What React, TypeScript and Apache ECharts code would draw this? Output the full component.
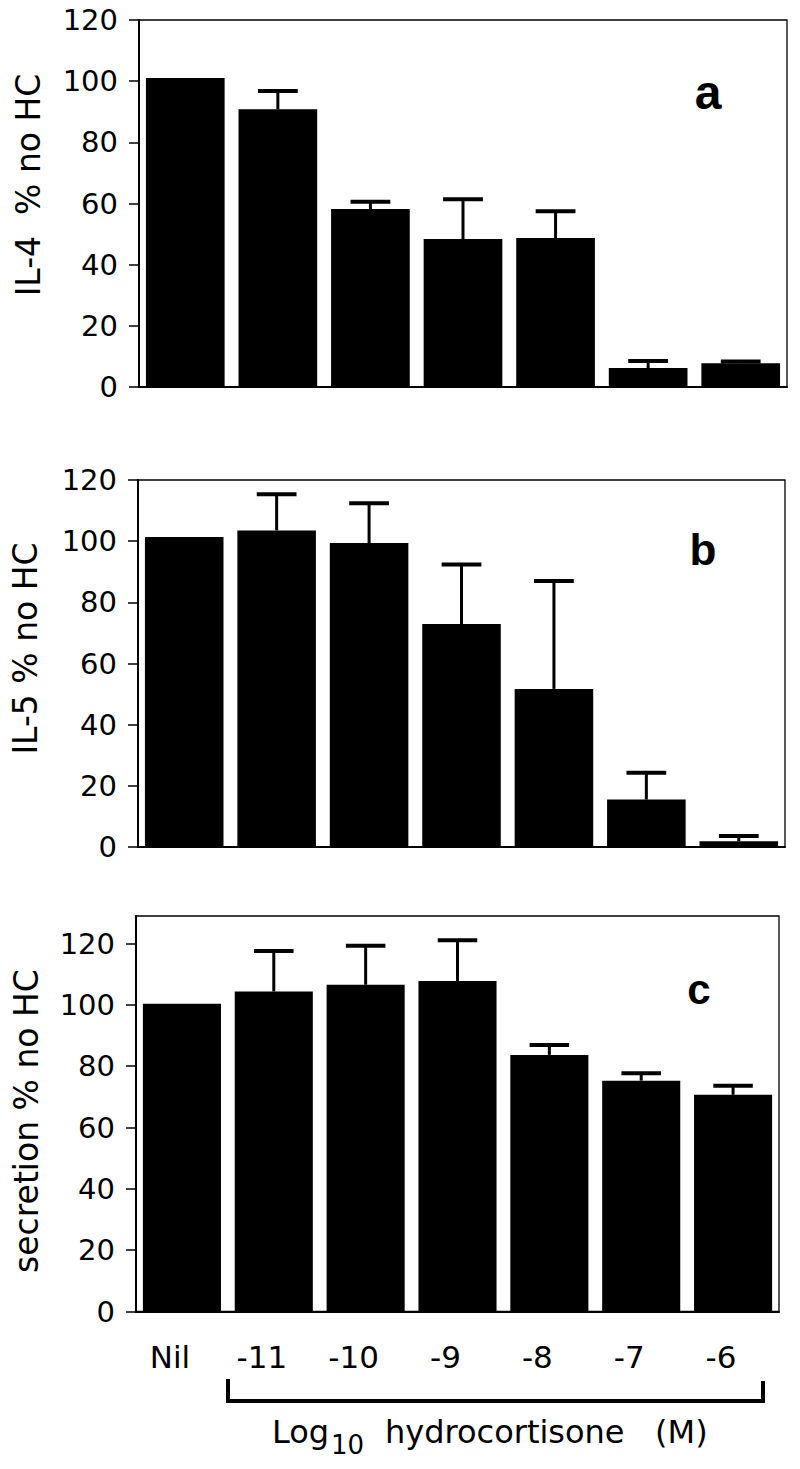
import React, { useEffect, useRef } from "react";
import * as echarts from "echarts";

const categories = ["Nil", "-11", "-10", "-9", "-8", "-7", "-6"];
const il4Mean = [101, 90.8, 58.2, 48.4, 48.7, 6.2, 7.8];
const il4Err = [0, 6.0, 2.4, 13.0, 8.8, 2.3, 0.5];
const il5Mean = [101.4, 103.5, 99.4, 72.9, 51.7, 15.5, 1.9];
const il5Err = [0, 11.8, 13.0, 19.5, 35.3, 8.8, 1.7];
const secMean = [100.4, 104.4, 106.6, 107.8, 83.7, 75.3, 70.7];
const secErr = [0, 13.2, 12.7, 13.3, 3.2, 2.4, 2.9];
const yTicks = [0, 20, 40, 60, 80, 100, 120];

const FONT = "DejaVu Sans";

function errorSeries(idx: number, means: number[], errs: number[]) {
  return {
    type: "custom",
    xAxisIndex: idx,
    yAxisIndex: idx,
    z: 3,
    data: means.map((m, i) => [i, m, errs[i]]),
    renderItem: (params: any, api: any) => {
      const i = api.value(0);
      const m = api.value(1);
      const e = api.value(2);
      if (!e) return null;
      const base = api.coord([i, m]);
      const top = api.coord([i, m + e]);
      const half = api.size([1, 0])[0] * 0.215;
      return {
        type: "group",
        children: [
          {
            type: "line",
            shape: { x1: base[0], y1: base[1], x2: top[0], y2: top[1] },
            style: { stroke: "#000", lineWidth: 3 },
          },
          {
            type: "line",
            shape: { x1: top[0] - half, y1: top[1], x2: top[0] + half, y2: top[1] },
            style: { stroke: "#000", lineWidth: 4 },
          },
        ],
      };
    },
  };
}

function barSeries(idx: number, means: number[]) {
  return {
    type: "bar",
    xAxisIndex: idx,
    yAxisIndex: idx,
    data: means,
    barWidth: "85%",
    itemStyle: { color: "#000" },
    z: 2,
  };
}

function yAxis(idx: number, max: number) {
  return {
    type: "value",
    gridIndex: idx,
    min: 0,
    max,
    interval: 20,
    axisLine: { show: true, lineStyle: { color: "#000", width: 2 } },
    axisTick: {
      show: true,
      inside: false,
      length: 10,
      lineStyle: { color: "#000", width: 1.5 },
      customValues: yTicks,
    },
    axisLabel: {
      color: "#000",
      fontSize: 29,
      fontFamily: FONT,
      margin: 21,
      customValues: yTicks,
    },
    splitLine: { show: false },
  };
}

function xAxis(idx: number, showLabels: boolean) {
  return {
    type: "category",
    gridIndex: idx,
    data: categories,
    axisLine: { show: true, lineStyle: { color: "#000", width: 2 } },
    axisTick: { show: false },
    axisLabel: {
      show: showLabels,
      interval: 0,
      color: "#000",
      fontSize: 31,
      fontFamily: FONT,
      margin: 30,
      padding: [0, 24, 0, 0],
    },
    splitLine: { show: false },
  };
}

function grid(left: number, top: number, width: number, height: number) {
  return {
    left,
    top,
    width,
    height,
    show: true,
    borderColor: "#000",
    borderWidth: 1.3,
    backgroundColor: "transparent",
  };
}

function vText(text: string, x: number, y: number) {
  return {
    type: "text",
    x,
    y,
    rotation: Math.PI / 2,
    style: {
      text,
      fontSize: 33,
      fontFamily: FONT,
      fill: "#000",
      textAlign: "center",
      textVerticalAlign: "middle",
    },
  };
}

function letter(text: string, x: number, y: number, size: number) {
  return {
    type: "text",
    x,
    y,
    style: {
      text,
      fontSize: size,
      fontWeight: "bold",
      fontFamily: "Liberation Sans",
      fill: "#000",
      textAlign: "center",
      textVerticalAlign: "middle",
    },
  };
}

function hText(text: string, x: number, y: number, size: number) {
  return {
    type: "text",
    x,
    y,
    style: {
      text,
      fontSize: size,
      fontFamily: FONT,
      fill: "#000",
      textAlign: "left",
      textVerticalAlign: "middle",
    },
  };
}

export default function App() {
  const ref = useRef<HTMLDivElement>(null);
  useEffect(() => {
    document.body.style.margin = "0";
    if (!ref.current) return;
    const chart = echarts.init(ref.current, null, { renderer: "svg" });
    chart.setOption({
      animation: false,
      backgroundColor: "#fff",
      grid: [grid(139, 20, 648, 367), grid(138, 480, 647, 367), grid(136, 916, 643, 395.5)],
      xAxis: [xAxis(0, false), xAxis(1, false), xAxis(2, true)],
      yAxis: [yAxis(0, 120), yAxis(1, 120), yAxis(2, 129)],
      series: [
        barSeries(0, il4Mean),
        errorSeries(0, il4Mean, il4Err),
        barSeries(1, il5Mean),
        errorSeries(1, il5Mean, il5Err),
        barSeries(2, secMean),
        errorSeries(2, secMean, secErr),
      ],
      graphic: [
        vText("IL-4  % no HC", 28.6, 185),
        vText("IL-5 % no HC", 25.6, 648.5),
        vText("secretion % no HC", 26.6, 1121),
        letter("a", 708, 92, 48),
        letter("b", 703, 549.5, 44),
        letter("c", 699, 989, 42),
        {
          type: "polyline",
          shape: { points: [[228, 1379], [228, 1401], [763, 1401], [763, 1381]] },
          style: { stroke: "#000", lineWidth: 4, fill: null },
        },
        hText("Log", 272, 1432, 32),
        hText("10", 331, 1445, 26),
        hText("hydrocortisone   (M)", 385, 1432, 32),
      ],
    });
    return () => chart.dispose();
  }, []);
  return <div ref={ref} style={{ width: 800, height: 1469 }} />;
}
